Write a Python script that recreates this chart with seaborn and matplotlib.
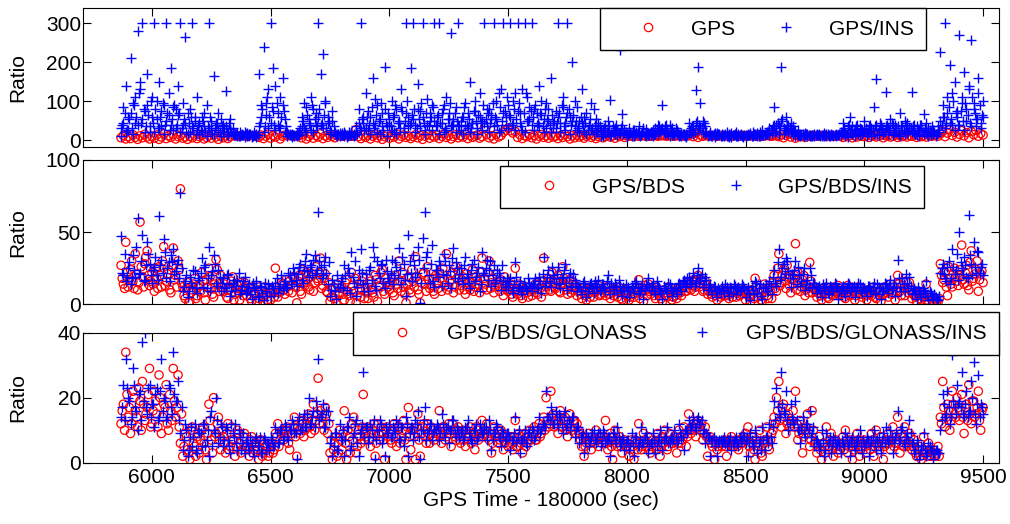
import numpy as np
import matplotlib
matplotlib.use('Agg')
import matplotlib.pyplot as plt
import seaborn as sns
from matplotlib.lines import Line2D

sns.set_style('white', {'axes.edgecolor': 'black', 'xtick.color': 'black',
                        'ytick.color': 'black', 'text.color': 'black',
                        'axes.labelcolor': 'black'})
plt.rcParams['font.family'] = ['Liberation Sans', 'DejaVu Sans']
plt.rcParams['font.size'] = 15

# sample times (sec after 180000): main grid every 10 s, second grid offset by 5 s
time = np.arange(5870, 9501, 10)
time_b = np.arange(5875, 9500, 10)

# panel 1: GPS and GPS/INS ratio (values capped at 300)
gps = [
    6, 12, 3,
    9, 4, 14, 7, 2, 11, 6, 15, 8, 3,
    10, 5, 13, 2, 8, 16, 4, 11, 7, 14,
    3, 9, 12, 5, 8, 2, 10, 6, 13, 4,
    9, 12, 3, 7, 11, 5, 14, 8, 2, 10,
    6, 11, 4, 9, 12, 11, 10, 11, 12, 11,
    10, 11, 12, 11, 10, 7, 13, 4, 10, 15,
    5, 12, 8, 14, 3, 10, 13, 11, 12, 11,
    10, 11, 12, 6, 14, 3, 9, 15, 5, 12,
    8, 16, 4, 11, 7, 13, 10, 6, 12, 11,
    10, 11, 12, 11, 10, 11, 27, 9, 4, 12,
    7, 13, 3, 10, 15, 6, 11, 2, 9, 14,
    5, 12, 8, 16, 3, 10, 13, 7, 11, 4,
    9, 14, 6, 12, 2, 10, 15, 5, 11, 8,
    13, 4, 10, 16, 7, 12, 3, 9, 14, 6,
    11, 8, 15, 4, 12, 7, 10, 13, 5, 9,
    32, 14, 6, 11, 3, 15, 8, 12, 20, 25,
    31, 24, 18, 22, 7, 14, 4, 11, 9, 15,
    6, 12, 3, 10, 14, 7, 11, 5, 13, 8,
    10, 4, 12, 7, 15, 9, 3, 11, 6, 13,
    8, 12, 5, 10, 14, 7, 11, 4, 9, 12,
    6, 10, 13, 8, 11, 5, 12, 9, 14, 7,
    11, 10, 12, 9, 13, 10, 11, 12, 10, 11,
    10, 11, 12, 10, 11, 12, 11, 10, 12, 11,
    10, 12, 11, 10, 11, 12, 11, 16, 9, 18,
    7, 13, 10, 12, 11, 10, 12, 11, 10, 11,
    12, 10, 11, 12, 10, 11, 12, 10, 11, 12,
    11, 10, 12, 11, 10, 11, 12, 10, 11, 12,
    11, 10, 12, 11, 9, 14, 6, 12, 16, 8,
    13, 5, 11, 9, 14, 7, 11, 10, 12, 11,
    10, 11, 12, 11, 10, 11, 12, 10, 11, 12,
    10, 7, 12, 9, 13, 6, 11, 8, 12, 10,
    9, 12, 7, 11, 14, 8, 10, 13, 6, 11,
    12, 8, 10, 14, 7, 11, 9, 13, 8, 12,
    10, 13, 7, 11, 9, 12, 8, 14, 10, 11,
    12, 10, 16, 22, 9, 18, 26, 12, 20, 8,
    15, 24, 11, 19, 6, 22, 14, 25, 10, 17,
    13,
]
gps_ins = [
    30, 85, 140,
    60, 210, 95, 45, 280, 130, 300, 75, 170, 20,
    110, 300, 55, 150, 35, 90, 300, 65, 185, 25,
    80, 140, 300, 40, 265, 70, 20, 300, 50, 110,
    15, 60, 35, 90, 300, 25, 165, 45, 70, 10,
    40, 125, 20, 55, 30, 15, 10, 20, 12, 8,
    18, 10, 14, 22, 9, 170, 60, 240, 95, 30,
    300, 75, 140, 40, 110, 160, 55, 20, 12, 15,
    10, 18, 14, 60, 30, 85, 45, 110, 20, 70,
    300, 40, 220, 95, 60, 25, 75, 15, 10, 18,
    12, 20, 9, 15, 22, 11, 35, 80, 300, 45,
    120, 25, 60, 160, 40, 90, 15, 70, 188, 35,
    55, 100, 20, 80, 45, 130, 30, 300, 60, 185,
    300, 40, 145, 75, 300, 25, 105, 50, 90, 300,
    35, 300, 70, 20, 110, 55, 275, 40, 85, 300,
    25, 60, 95, 30, 150, 45, 75, 15, 120, 50,
    300, 35, 80, 55, 300, 100, 20, 130, 300, 60,
    90, 300, 45, 120, 300, 70, 25, 300, 110, 55,
    300, 80, 40, 140, 65, 20, 95, 50, 160, 30,
    75, 300, 45, 110, 25, 300, 60, 200, 35, 85,
    50, 130, 20, 70, 40, 95, 15, 55, 30, 25,
    10, 40, 20, 103, 35, 15, 25, 231, 68, 20,
    15, 30, 10, 25, 18, 35, 12, 20, 28, 14,
    22, 10, 30, 15, 25, 90, 35, 18, 40, 12,
    20, 15, 10, 18, 12, 16, 45, 20, 35, 128,
    188, 30, 50, 15, 10, 20, 14, 8, 18, 12,
    15, 10, 22, 9, 18, 12, 20, 11, 16, 10,
    14, 12, 18, 10, 15, 11, 20, 13, 12, 16,
    14, 25, 86, 40, 15, 188, 30, 60, 20, 45,
    35, 10, 25, 15, 12, 18, 10, 14, 11, 16,
    12, 15, 10, 18, 11, 14, 13, 10, 16, 12,
    20, 45, 10, 35, 60, 15, 28, 40, 12, 25,
    50, 18, 35, 10, 85, 158, 25, 40, 15, 124,
    30, 55, 12, 40, 20, 70, 35, 15, 45, 25,
    124, 18, 35, 10, 40, 68, 20, 30, 12, 25,
    15, 35, 227, 60, 300, 110, 193, 40, 150, 75,
    270, 95, 175, 50, 130, 257, 80, 35, 160, 45,
    100,
]
gps_ins_2 = [
    10, 45, 20,
    25, 70, 15, 110, 40, 150, 55, 20, 90, 35,
    60, 20, 100, 30, 75, 15, 50, 120, 40, 85,
    30, 65, 20, 95, 45, 15, 80, 35, 60, 25,
    45, 20, 70, 10, 30, 50, 15, 40, 25, 55,
    20, 35, 10, 28, 15, 12, 18, 10, 15, 20,
    10, 15, 8, 12, 16, 35, 90, 20, 65, 130,
    45, 185, 25, 70, 35, 90, 20, 10, 15, 8,
    14, 10, 20, 35, 95, 20, 55, 25, 80, 40,
    60, 170, 30, 100, 45, 15, 50, 20, 15, 10,
    18, 10, 14, 20, 12, 16, 20, 45, 25, 60,
    30, 75, 15, 45, 105, 20, 55, 35, 80, 10,
    40, 25, 65, 15, 50, 85, 20, 70, 35, 45,
    55, 20, 80, 35, 60, 15, 40, 70, 25, 50,
    60, 15, 45, 90, 25, 70, 35, 55, 20, 40,
    50, 15, 35, 70, 20, 45, 100, 30, 60, 25,
    45, 80, 20, 65, 35, 55, 120, 25, 70, 40,
    30, 60, 100, 25, 75, 45, 130, 20, 50, 85,
    40, 25, 70, 35, 100, 55, 30, 80, 20, 45,
    30, 60, 20, 85, 45, 70, 15, 50, 100, 25,
    20, 45, 60, 15, 35, 25, 80, 20, 45, 10,
    25, 15, 50, 10, 20, 30, 12, 18, 40, 25,
    8, 20, 14, 10, 22, 12, 16, 30, 10, 18,
    12, 25, 15, 40, 20, 30, 15, 25, 10, 30,
    12, 25, 14, 10, 15, 8, 20, 30, 15, 45,
    25, 95, 20, 35, 12, 15, 10, 18, 12, 15,
    10, 14, 11, 15, 9, 13, 10, 15, 12, 9,
    10, 16, 12, 20, 14, 18, 10, 25, 15, 22,
    30, 18, 40, 20, 35, 50, 15, 25, 40, 20,
    15, 25, 14, 10, 16, 12, 15, 10, 13, 11,
    15, 12, 14, 11, 16, 10, 15, 12, 11, 14,
    12, 25, 18, 8, 20, 35, 10, 22, 30, 15,
    25, 10, 20, 30, 15, 40, 12, 28, 20, 35,
    15, 25, 40, 20, 35, 10, 25, 50, 18, 30,
    20, 40, 12, 25, 30, 15, 45, 10, 20, 15,
    10, 20, 50, 90, 30, 70, 45, 120, 25, 60,
    40, 110, 25, 80, 140, 35, 95, 55, 120, 30,
    60,
]
gps_ins_3 = [
    40, 70, 25,
    55, 30, 90, 60, 120, 45, 80, 35, 65, 100,
    45, 80, 30, 60, 95, 40, 70, 25, 55, 90,
    40, 70, 30, 55, 20, 45, 60, 30, 15, 40,
    25, 50, 20, 35, 60, 15, 30, 45, 20, 35,
    30, 15, 45, 20, 12, 15, 10, 14, 12, 16,
    12, 15, 10, 14, 12, 45, 80, 35, 110, 60,
    85, 40, 95, 30, 60, 75, 35, 15, 12, 14,
    12, 15, 30, 50, 25, 65, 40, 90, 55, 35,
    80, 45, 65, 30, 50, 20, 35, 12, 15, 14,
    12, 15, 11, 14, 12, 13, 15, 30, 55, 25,
    60, 40, 85, 30, 65, 50, 95, 25, 45, 70,
    35, 60, 90, 45, 30, 75, 50, 100, 40, 65,
    80, 30, 55, 95, 45, 70, 35, 60, 85, 40,
    65, 45, 80, 30, 55, 95, 40, 70, 50, 35,
    60, 85, 40, 55, 30, 75, 50, 65, 45, 90,
    55, 70, 45, 95, 60, 40, 85, 50, 75, 110,
    65, 40, 80, 55, 95, 35, 70, 120, 50, 75,
    60, 90, 45, 70, 35, 80, 55, 40, 65, 50,
    45, 70, 90, 35, 60, 80, 40, 65, 50, 30,
    60, 35, 45, 25, 55, 30, 40, 20, 35, 15,
    30, 20, 35, 15, 25, 40, 18, 30, 15, 20,
    12, 18, 25, 15, 20, 10, 22, 14, 18, 12,
    20, 15, 25, 35, 28, 20, 40, 15, 25, 18,
    30, 20, 12, 15, 10, 14, 25, 35, 20, 50,
    40, 30, 45, 20, 14, 10, 15, 12, 16, 10,
    12, 16, 10, 14, 12, 15, 10, 13, 11, 14,
    12, 14, 10, 15, 12, 11, 14, 12, 16, 20,
    25, 35, 20, 45, 30, 55, 25, 40, 30, 20,
    25, 15, 12, 14, 11, 15, 12, 10, 14, 12,
    14, 11, 13, 12, 15, 11, 14, 12, 13, 15,
    18, 30, 15, 40, 25, 20, 35, 15, 28, 20,
    30, 20, 40, 25, 35, 15, 45, 30, 20, 40,
    25, 45, 20, 30, 15, 35, 25, 40, 20, 30,
    35, 15, 25, 40, 20, 30, 15, 25, 35, 20,
    15, 25, 40, 60, 45, 85, 55, 100, 70, 40,
    75, 50, 95, 65, 45, 110, 70, 55, 90, 65,
]

# panel 2: GPS/BDS and GPS/BDS/INS ratio
bds = [
    27, 14, 43,
    12, 24, 16, 35, 10, 57, 19, 28, 37, 13,
    22, 9, 18, 26, 12, 40, 16, 24, 8, 39,
    20, 30, 80, 12, 4, 15, 2, 10, 18, 6,
    13, 22, 8, 17, 25, 11, 5, 31, 14, 20,
    9, 16, 4, 12, 19, 7, 13, 3, 10, 15,
    6, 11, 2, 8, 13, 4, 9, 1, 7, 11,
    3, 8, 25, 5, 9, 14, 7, 12, 16, 8,
    18, 1, 20, 7, 15, 22, 12, 19, 9, 26,
    16, 32, 13, 21, 8, 2, 10, 4, 14, 7,
    12, 3, 17, 6, 22, 9, 1, 14, 5, 19,
    11, 4, 16, 8, 20, 2, 13, 24, 7, 15,
    10, 18, 6, 14, 30, 9, 12, 1, 19, 8,
    16, 33, 10, 1, 21, 14, 26, 11, 18, 7,
    15, 22, 9, 17, 35, 12, 20, 8, 26, 23,
    13, 19, 7, 15, 10, 24, 12, 17, 8, 32,
    18, 10, 30, 15, 8, 21, 12, 17, 6, 13,
    9, 14, 5, 25, 7, 13, 4, 10, 8, 12,
    6, 11, 8, 14, 5, 32, 12, 18, 9, 15,
    11, 20, 8, 26, 14, 7, 17, 10, 13, 6,
    9, 4, 12, 3, 8, 11, 5, 9, 13, 7,
    10, 6, 12, 4, 8, 11, 5, 9, 3, 7,
    6, 3, 9, 5, 12, 17, 8, 2, 10, 14,
    7, 11, 4, 9, 6, 2, 8, 5, 10, 3,
    8, 4, 11, 6, 13, 9, 15, 10, 17, 12,
    20, 14, 9, 16, 7, 11, 5, 9, 3, 7,
    10, 6, 9, 4, 8, 11, 5, 9, 7, 10,
    3, 9, 1, 7, 18, 5, 11, 2, 14, 6,
    12, 4, 20, 9, 35, 15, 24, 11, 19, 8,
    14, 42, 22, 9, 17, 6, 13, 29, 8, 12,
    5, 10, 3, 8, 12, 4, 9, 6, 11, 13,
    7, 10, 4, 13, 6, 9, 3, 8, 11, 5,
    8, 3, 10, 6, 12, 4, 9, 2, 7, 11,
    5, 14, 8, 3, 20, 9, 13, 6, 11, 15,
    4, 8, 2, 6, 3, 7, 14, 1, 5, 2,
    3, 1, 28, 15, 22, 6, 18, 12, 25, 16,
    20, 41, 14, 27, 10, 37, 18, 24, 9, 21,
    15,
]
bds_b = [
    18, 11, 22,
    17, 30, 11, 21, 15, 26, 12, 33, 20, 16,
    14, 25, 11, 20, 30, 13, 21, 10, 27, 17,
    12, 24, 15, 6, 11, 1, 8, 14, 4, 12,
    9, 16, 3, 12, 19, 7, 14, 24, 9, 12,
    14, 5, 10, 16, 3, 11, 8, 15, 6, 12,
    9, 4, 12, 7, 2, 10, 5, 12, 3, 8,
    10, 5, 12, 8, 15, 10, 17, 9, 13, 19,
    12, 16, 9, 24, 13, 17, 10, 21, 15, 18,
    22, 11, 18, 9, 15, 5, 12, 1, 8, 11,
    7, 15, 9, 2, 13, 18, 6, 10, 16, 4,
    8, 14, 10, 5, 17, 12, 22, 9, 18, 12,
    14, 8, 20, 11, 16, 22, 7, 14, 10, 24,
    12, 19, 7, 15, 22, 9, 17, 13, 9, 20,
    11, 18, 25, 13, 10, 16, 22, 12, 18, 10,
    17, 10, 21, 12, 15, 9, 19, 14, 22, 11,
    14, 22, 11, 18, 12, 15, 9, 13, 19, 10,
    12, 7, 11, 9, 14, 6, 10, 12, 5, 9,
    10, 14, 7, 11, 16, 9, 15, 10, 22, 12,
    16, 9, 14, 18, 10, 13, 8, 15, 11, 9,
    7, 11, 6, 10, 5, 13, 8, 11, 6, 10,
    8, 12, 7, 10, 6, 9, 12, 4, 8, 10,
    9, 5, 7, 11, 8, 4, 10, 13, 6, 9,
    10, 6, 12, 8, 4, 10, 6, 12, 8, 5,
    6, 10, 8, 12, 9, 14, 11, 13, 9, 16,
    12, 17, 10, 13, 9, 7, 10, 6, 8, 5,
    7, 11, 6, 9, 5, 10, 8, 6, 11, 8,
    7, 5, 10, 4, 12, 8, 3, 9, 10, 4,
    9, 15, 11, 25, 13, 20, 16, 27, 13, 17,
    20, 10, 15, 12, 20, 10, 8, 16, 11, 9,
    8, 6, 11, 7, 5, 10, 7, 12, 8, 6,
    9, 5, 8, 11, 7, 10, 6, 12, 7, 9,
    6, 10, 7, 9, 5, 11, 8, 6, 12, 8,
    10, 7, 12, 9, 14, 6, 11, 16, 8, 10,
    7, 5, 9, 4, 8, 5, 3, 6, 3, 4,
    2, 4, 20, 17, 12, 26, 14, 21, 19, 13,
    24, 17, 22, 13, 29, 16, 21, 30, 17, 23,
]
bds_ins = [
    47, 20, 16,
    25, 14, 34, 19, 60, 22, 48, 17, 43, 28,
    15, 26, 20, 61, 31, 45, 18, 29, 34, 38,
    23, 31, 77, 9, 16, 5, 19, 12, 23, 8,
    17, 32, 26, 11, 40, 20, 34, 15, 24, 9,
    18, 12, 21, 6, 15, 10, 17, 7, 13, 19,
    9, 14, 4, 11, 16, 6, 12, 3, 9, 14,
    6, 11, 15, 8, 13, 10, 16, 12, 20, 14,
    22, 13, 26, 17, 24, 35, 19, 27, 31, 22,
    64, 26, 20, 33, 14, 6, 17, 9, 20, 12,
    18, 27, 10, 22, 36, 15, 6, 24, 38, 14,
    21, 9, 26, 40, 13, 30, 18, 28, 11, 23,
    16, 31, 20, 26, 39, 14, 28, 6, 48, 22,
    34, 19, 40, 1, 46, 64, 36, 15, 41, 12,
    24, 30, 13, 35, 20, 27, 11, 39, 29, 16,
    25, 14, 33, 19, 11, 28, 16, 22, 9, 36,
    20, 31, 24, 13, 27, 17, 22, 10, 16, 12,
    12, 18, 8, 29, 11, 16, 7, 13, 10, 15,
    9, 14, 11, 19, 8, 33, 15, 24, 12, 20,
    15, 26, 11, 19, 28, 10, 22, 13, 17, 9,
    12, 7, 16, 5, 11, 15, 8, 13, 17, 10,
    14, 9, 20, 7, 12, 15, 8, 13, 6, 10,
    9, 5, 13, 8, 16, 7, 11, 4, 14, 18,
    10, 15, 7, 13, 9, 4, 11, 8, 14, 6,
    11, 7, 15, 9, 17, 12, 19, 14, 22, 15,
    25, 18, 12, 19, 10, 14, 7, 12, 5, 10,
    13, 8, 12, 6, 11, 14, 7, 12, 10, 13,
    5, 12, 3, 10, 16, 8, 14, 4, 11, 9,
    16, 7, 24, 13, 38, 19, 28, 32, 23, 12,
    18, 30, 26, 13, 21, 10, 17, 25, 11, 15,
    8, 13, 5, 11, 15, 7, 12, 9, 14, 4,
    10, 13, 6, 15, 9, 12, 5, 11, 14, 8,
    11, 6, 13, 9, 15, 7, 12, 4, 10, 14,
    8, 17, 11, 6, 31, 12, 18, 9, 15, 19,
    7, 11, 4, 9, 5, 10, 16, 3, 8, 4,
    5, 3, 22, 28, 18, 26, 14, 38, 21, 35,
    50, 25, 33, 19, 62, 28, 43, 22, 36, 26,
    20,
]
bds_ins_b = [
    22, 35, 19,
    29, 18, 24, 40, 21, 30, 16, 27, 35, 20,
    24, 33, 17, 27, 22, 36, 25, 16, 30, 21,
    28, 18, 25, 12, 20, 9, 15, 24, 11, 18,
    22, 12, 27, 18, 9, 23, 28, 13, 19, 15,
    11, 20, 14, 9, 17, 13, 22, 10, 16, 8,
    12, 7, 15, 10, 5, 13, 8, 15, 6, 11,
    13, 8, 18, 11, 20, 14, 11, 22, 16, 25,
    17, 21, 28, 15, 30, 23, 26, 20, 34, 24,
    30, 18, 27, 22, 29, 10, 14, 4, 12, 16,
    11, 20, 25, 8, 19, 30, 12, 17, 22, 9,
    15, 24, 17, 33, 10, 22, 27, 15, 31, 18,
    22, 14, 29, 18, 24, 33, 17, 21, 30, 16,
    27, 22, 31, 15, 25, 33, 20, 28, 16, 24,
    19, 27, 21, 30, 15, 23, 32, 18, 25, 21,
    18, 27, 21, 15, 24, 31, 19, 26, 14, 22,
    25, 17, 30, 20, 15, 24, 19, 27, 14, 18,
    16, 10, 14, 19, 12, 9, 15, 11, 18, 13,
    14, 18, 12, 16, 21, 13, 19, 16, 26, 18,
    21, 14, 18, 24, 15, 19, 12, 21, 15, 13,
    10, 15, 12, 9, 14, 11, 16, 12, 9, 14,
    11, 16, 12, 15, 10, 13, 17, 9, 12, 14,
    12, 9, 11, 15, 12, 9, 14, 10, 13, 12,
    13, 9, 16, 11, 8, 13, 10, 15, 11, 9,
    10, 14, 12, 16, 13, 18, 15, 17, 13, 20,
    16, 21, 14, 17, 12, 10, 13, 9, 11, 8,
    10, 14, 9, 12, 8, 13, 11, 9, 14, 11,
    10, 8, 13, 7, 15, 11, 6, 12, 14, 9,
    13, 19, 15, 29, 17, 25, 21, 30, 18, 21,
    24, 14, 20, 16, 25, 14, 12, 20, 15, 12,
    11, 9, 14, 10, 8, 13, 10, 15, 11, 9,
    12, 8, 11, 14, 10, 13, 9, 15, 10, 12,
    9, 13, 10, 12, 8, 14, 11, 9, 15, 11,
    13, 10, 15, 12, 18, 9, 14, 21, 11, 13,
    10, 8, 12, 7, 11, 8, 6, 9, 6, 7,
    4, 6, 25, 21, 16, 30, 18, 26, 24, 17,
    29, 21, 27, 18, 34, 20, 26, 37, 22, 28,
]

# panel 3: GPS/BDS/GLONASS and GPS/BDS/GLONASS/INS ratio
glo = [
    12, 18, 34,
    14, 9, 22, 16, 11, 19, 25, 13, 17, 29,
    12, 22, 15, 27, 9, 18, 24, 10, 16, 29,
    14, 27, 6, 2, 9, 4, 1, 11, 5, 8,
    3, 10, 6, 1, 18, 7, 20, 9, 14, 4,
    8, 3, 12, 5, 7, 2, 10, 6, 4, 9,
    5, 2, 8, 4, 6, 1, 7, 3, 5, 2,
    5, 3, 9, 12, 7, 10, 8, 11, 4, 9,
    14, 2, 10, 13, 8, 12, 15, 9, 18, 13,
    26, 16, 12, 17, 9, 3, 1, 6, 2, 10,
    4, 16, 1, 8, 12, 14, 3, 10, 6, 21,
    8, 11, 5, 10, 2, 12, 7, 9, 1, 11,
    9, 6, 12, 5, 11, 8, 13, 1, 17, 4,
    10, 1, 15, 2, 11, 8, 12, 6, 10, 7,
    9, 16, 6, 11, 8, 12, 5, 10, 7, 11,
    6, 10, 5, 9, 11, 7, 4, 10, 8, 13,
    9, 12, 7, 3, 11, 8, 6, 10, 4, 8,
    5, 8, 4, 13, 5, 8, 3, 9, 6, 10,
    8, 11, 7, 12, 9, 14, 20, 11, 22, 15,
    13, 9, 16, 11, 14, 8, 15, 10, 13, 12,
    9, 5, 2, 6, 9, 4, 7, 10, 5, 8,
    7, 13, 4, 9, 1, 10, 5, 8, 3, 7,
    5, 2, 7, 1, 6, 12, 4, 9, 5, 8,
    3, 7, 5, 9, 2, 8, 10, 4, 9, 6,
    8, 3, 10, 6, 11, 5, 15, 9, 12, 8,
    13, 10, 7, 11, 2, 8, 5, 1, 4, 6,
    5, 7, 2, 6, 8, 5, 7, 4, 6, 8,
    9, 11, 3, 8, 1, 6, 10, 2, 7, 11,
    4, 9, 14, 20, 25, 11, 18, 9, 15, 12,
    16, 22, 7, 13, 3, 10, 15, 5, 16, 6,
    3, 8, 1, 6, 11, 4, 9, 2, 7, 3,
    5, 8, 10, 3, 7, 1, 6, 9, 2, 5,
    7, 3, 6, 9, 2, 10, 5, 8, 1, 6,
    9, 4, 11, 6, 14, 3, 8, 11, 5, 9,
    4, 7, 2, 5, 1, 8, 3, 6, 2, 4,
    2, 5, 14, 25, 11, 18, 10, 22, 15, 20,
    13, 21, 9, 18, 24, 12, 19, 15, 22, 10,
    17,
]
glo_b = [
    16, 10, 21,
    17, 12, 20, 14, 23, 10, 18, 15, 21, 11,
    16, 19, 11, 20, 14, 17, 12, 21, 13, 19,
    17, 11, 15, 5, 8, 3, 10, 6, 2, 9,
    7, 11, 4, 9, 13, 3, 8, 12, 7, 10,
    6, 9, 4, 11, 7, 5, 9, 3, 8, 5,
    4, 7, 3, 6, 4, 7, 2, 6, 5, 3,
    6, 4, 8, 5, 9, 7, 10, 6, 9, 11,
    8, 11, 9, 12, 10, 14, 11, 13, 10, 15,
    12, 14, 10, 15, 12, 7, 4, 8, 3, 7,
    9, 6, 10, 3, 7, 11, 5, 8, 11, 7,
    10, 7, 9, 12, 6, 9, 11, 7, 10, 8,
    7, 10, 8, 11, 6, 10, 7, 11, 8, 10,
    8, 11, 7, 9, 12, 6, 9, 11, 8, 9,
    10, 8, 11, 7, 10, 9, 12, 8, 10, 7,
    9, 7, 10, 8, 6, 9, 11, 7, 9, 8,
    10, 8, 9, 6, 8, 10, 7, 9, 6, 8,
    7, 6, 8, 5, 9, 6, 7, 5, 8, 7,
    9, 7, 10, 8, 11, 10, 13, 12, 14, 11,
    12, 14, 11, 13, 10, 12, 11, 13, 9, 10,
    7, 8, 5, 7, 6, 8, 6, 7, 8, 6,
    8, 6, 7, 5, 8, 6, 7, 5, 6, 5,
    6, 4, 5, 7, 4, 6, 5, 7, 6, 4,
    5, 6, 4, 7, 5, 6, 7, 5, 7, 6,
    7, 6, 8, 7, 9, 8, 10, 11, 10, 12,
    11, 12, 9, 8, 7, 6, 7, 6, 5, 6,
    6, 5, 6, 7, 5, 6, 5, 7, 6, 7,
    7, 5, 6, 4, 7, 5, 3, 6, 7, 5,
    7, 10, 12, 16, 13, 17, 14, 12, 11, 13,
    11, 12, 9, 10, 8, 11, 9, 7, 10, 6,
    5, 4, 6, 3, 5, 7, 4, 6, 5, 4,
    6, 4, 7, 5, 6, 4, 5, 7, 4, 6,
    5, 6, 4, 7, 5, 6, 4, 6, 5, 7,
    6, 7, 5, 8, 6, 9, 5, 7, 6, 8,
    5, 3, 4, 2, 4, 3, 2, 4, 3, 2,
    3, 2, 12, 17, 14, 16, 13, 18, 14, 17,
    16, 14, 17, 13, 15, 19, 14, 17, 13, 16,
]
glo_ins = [
    14, 24, 32,
    20, 12, 29, 17, 10, 22, 37, 40, 15, 24,
    18, 11, 23, 14, 32, 20, 13, 24, 17, 34,
    19, 25, 9, 4, 12, 2, 8, 5, 12, 3,
    9, 5, 12, 7, 2, 16, 10, 20, 6, 12,
    5, 11, 7, 3, 9, 12, 4, 8, 6, 3,
    7, 4, 6, 2, 8, 5, 3, 8, 4, 6,
    8, 5, 11, 6, 10, 7, 12, 8, 10, 13,
    9, 1, 14, 10, 15, 11, 20, 12, 16, 19,
    32, 14, 18, 11, 16, 6, 2, 9, 4, 12,
    7, 2, 11, 14, 5, 9, 13, 2, 10, 28,
    11, 6, 12, 8, 1, 10, 13, 6, 2, 9,
    12, 8, 10, 13, 7, 11, 5, 14, 2, 11,
    7, 13, 16, 1, 10, 17, 9, 12, 7, 10,
    12, 7, 15, 9, 11, 6, 10, 13, 8, 10,
    9, 7, 11, 13, 8, 6, 10, 7, 12, 9,
    11, 7, 13, 4, 9, 12, 8, 5, 9, 7,
    9, 4, 7, 14, 8, 3, 7, 10, 5, 9,
    11, 7, 10, 14, 10, 12, 22, 14, 17, 12,
    16, 11, 14, 9, 16, 12, 10, 14, 8, 11,
    6, 8, 3, 9, 5, 8, 10, 6, 9, 5,
    10, 6, 8, 2, 9, 7, 11, 5, 8, 4,
    7, 4, 9, 2, 8, 5, 11, 6, 9, 3,
    6, 9, 3, 7, 10, 4, 8, 11, 6, 8,
    10, 6, 12, 8, 4, 10, 13, 11, 14, 10,
    14, 12, 9, 6, 8, 2, 7, 5, 2, 7,
    6, 8, 5, 7, 4, 6, 8, 5, 7, 9,
    6, 2, 9, 5, 10, 3, 7, 11, 4, 8,
    12, 6, 19, 23, 15, 28, 16, 22, 10, 18,
    13, 19, 10, 6, 14, 8, 12, 16, 9, 5,
    7, 4, 10, 2, 9, 6, 3, 8, 5, 7,
    3, 6, 9, 5, 2, 8, 4, 7, 10, 3,
    5, 8, 2, 7, 10, 4, 8, 3, 9, 11,
    6, 10, 3, 8, 16, 7, 11, 5, 9, 13,
    6, 3, 7, 1, 5, 9, 2, 6, 4, 1,
    4, 3, 10, 21, 14, 22, 12, 33, 17, 24,
    19, 28, 14, 22, 16, 25, 31, 12, 27, 18,
    15,
]
glo_ins_b = [
    17, 13, 23,
    19, 14, 24, 16, 21, 13, 19, 17, 23, 14,
    18, 21, 13, 22, 16, 19, 14, 23, 15, 21,
    19, 13, 17, 7, 10, 4, 11, 8, 4, 10,
    9, 12, 5, 10, 14, 5, 9, 13, 8, 11,
    7, 10, 5, 12, 8, 6, 10, 4, 9, 6,
    5, 8, 4, 7, 5, 8, 3, 7, 6, 4,
    7, 5, 9, 6, 10, 8, 11, 7, 10, 12,
    9, 12, 10, 13, 11, 15, 12, 14, 11, 16,
    13, 15, 11, 16, 13, 8, 5, 9, 4, 8,
    10, 7, 11, 4, 8, 12, 6, 9, 12, 8,
    11, 8, 10, 13, 7, 10, 12, 8, 11, 9,
    8, 11, 9, 12, 7, 11, 8, 12, 9, 11,
    9, 12, 8, 10, 13, 7, 10, 12, 9, 10,
    11, 9, 12, 8, 11, 10, 13, 9, 11, 8,
    10, 8, 11, 9, 7, 10, 12, 8, 10, 9,
    11, 9, 10, 7, 9, 11, 8, 10, 7, 9,
    8, 7, 9, 6, 10, 7, 8, 6, 9, 8,
    10, 8, 11, 9, 12, 11, 14, 13, 15, 12,
    13, 15, 12, 14, 11, 13, 12, 14, 10, 11,
    8, 9, 6, 8, 7, 9, 7, 8, 9, 7,
    9, 7, 8, 6, 9, 7, 8, 6, 7, 6,
    7, 5, 6, 8, 5, 7, 6, 8, 7, 5,
    6, 7, 5, 8, 6, 7, 8, 6, 8, 7,
    8, 7, 9, 8, 10, 9, 11, 12, 11, 13,
    12, 13, 10, 9, 8, 7, 8, 7, 6, 7,
    7, 6, 7, 8, 6, 7, 6, 8, 7, 8,
    8, 6, 7, 5, 8, 6, 4, 7, 8, 6,
    8, 11, 13, 17, 14, 18, 15, 13, 12, 14,
    12, 13, 10, 11, 9, 12, 10, 8, 11, 7,
    6, 5, 7, 4, 6, 8, 5, 7, 6, 5,
    7, 5, 8, 6, 7, 5, 6, 8, 5, 7,
    6, 7, 5, 8, 6, 7, 5, 7, 6, 8,
    7, 8, 6, 9, 7, 10, 6, 8, 7, 9,
    6, 4, 5, 3, 5, 4, 3, 5, 4, 3,
    4, 3, 13, 18, 15, 17, 14, 19, 15, 18,
    17, 15, 18, 14, 16, 20, 15, 18, 14, 17,
]

for name, s, t in [('gps', gps, time), ('gps_ins', gps_ins, time),
                   ('gps_ins_2', gps_ins_2, time), ('gps_ins_3', gps_ins_3, time_b),
                   ('bds', bds, time), ('bds_b', bds_b, time_b),
                   ('bds_ins', bds_ins, time), ('bds_ins_b', bds_ins_b, time_b),
                   ('glo', glo, time), ('glo_b', glo_b, time_b),
                   ('glo_ins', glo_ins, time), ('glo_ins_b', glo_ins_b, time_b)]:
    assert len(s) == len(t), (name, len(s), len(t))

x_ticks = [6000, 6500, 7000, 7500, 8000, 8500, 9000, 9500]

fig = plt.figure(figsize=(10.1, 5.24), dpi=100)
ax1 = fig.add_axes([0.0822, 0.720, 0.9069, 0.2653])
ax2 = fig.add_axes([0.0822, 0.4193, 0.9069, 0.2754])
ax3 = fig.add_axes([0.0822, 0.117, 0.9069, 0.248])


# red open circles first, blue plus signs on top
def draw(ax, reds, blues):
    rx = np.concatenate([t for t, _ in reds])
    ry = np.concatenate([np.asarray(v, float) for _, v in reds])
    bx = np.concatenate([t for t, _ in blues])
    by = np.concatenate([np.asarray(v, float) for _, v in blues])
    sns.scatterplot(x=rx, y=ry, marker='o', s=36, facecolors='none',
                    edgecolor='#ff0000', linewidth=0.9, ax=ax, legend=False)
    sns.scatterplot(x=bx, y=by, marker='+', s=46, color='#0000ff',
                    linewidth=1.0, ax=ax, legend=False)


draw(ax1, [(time, gps)],
     [(time, gps_ins), (time, gps_ins_2), (time_b, gps_ins_3)])
draw(ax2, [(time, bds), (time_b, bds_b)], [(time, bds_ins), (time_b, bds_ins_b)])
draw(ax3, [(time, glo), (time_b, glo_b)], [(time, glo_ins), (time_b, glo_ins_b)])

ax1.set_ylim(-17, 340)
ax1.set_yticks([0, 100, 200, 300])
ax2.set_ylim(0, 100)
ax2.set_yticks([0, 50, 100])
ax3.set_ylim(0, 40)
ax3.set_yticks([0, 20, 40])

for ax in (ax1, ax2, ax3):
    ax.set_xlim(5710, 9567)
    ax.set_xticks(x_ticks)
    ax.tick_params(direction='in', length=6, width=0.8, top=True, right=True,
                   bottom=True, left=True, labelsize=15)
    ax.tick_params(axis='y', pad=1.5)
    ax.tick_params(axis='x', pad=4)
    for sp in ax.spines.values():
        sp.set_linewidth(0.8)
        sp.set_color('black')
    ax.set_ylabel('Ratio', fontsize=15)
    ax.yaxis.set_label_coords(-0.061, 0.5)
    ax.set_xlabel('')

ax1.tick_params(labelbottom=False)
ax2.tick_params(labelbottom=False)
ax3.set_xlabel('GPS Time - 180000 (sec)', fontsize=15, labelpad=3)


def legend(ax, labels, anchor, colsp=0.7, textpad=0.3):
    handles = [Line2D([], [], ls='none', marker='o', mfc='none', mec='#ff0000',
                      ms=6, mew=0.9),
               Line2D([], [], ls='none', marker='+', color='#0000ff', ms=6.5,
                      mew=1.0)]
    leg = ax.legend(handles, labels, ncol=2, loc='upper right',
                    bbox_to_anchor=anchor, borderaxespad=0, frameon=True,
                    fancybox=False, edgecolor='black', framealpha=1,
                    handlelength=3.5, handletextpad=textpad, columnspacing=colsp,
                    borderpad=0.57, fontsize=15)
    leg.get_frame().set_linewidth(1.0)


legend(ax1, ['GPS', 'GPS/INS'], (0.92, 1.0))
legend(ax2, ['GPS/BDS', 'GPS/BDS/INS'], (0.918, 0.96))
legend(ax3, ['GPS/BDS/GLONASS', 'GPS/BDS/GLONASS/INS'], (1.0, 1.159),
       colsp=0.9, textpad=0.4)

fig.savefig('out.png', dpi=100, facecolor='white')
